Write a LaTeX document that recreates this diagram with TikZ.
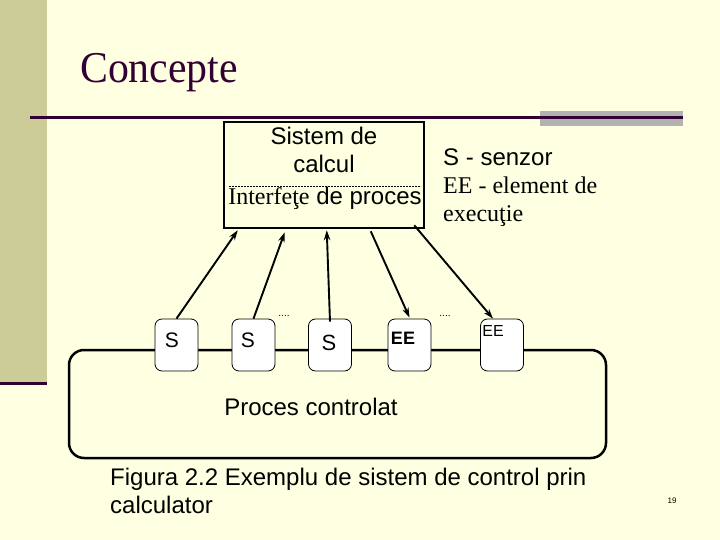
\documentclass[tikz,border=0pt]{standalone}
\usepackage{fontspec}
\setmainfont{Liberation Sans}
\newfontfamily\timesf{Liberation Serif}
\usetikzlibrary{calc,arrows.meta}
\definecolor{bgyellow}{RGB}{255,255,225}
\definecolor{bandolive}{RGB}{204,204,153}
\definecolor{darkpurple}{RGB}{51,0,51}
\definecolor{bargray}{RGB}{178,178,178}
\tikzset{
  sbox/.style={draw=black, line width=0.8pt, fill=white, rounded corners=7pt,
    minimum width=43pt, minimum height=52pt, inner sep=0pt},
  lbl/.style={inner sep=0pt, font=\fontsize{24}{26}\selectfont},
  arr/.style={line width=1.9pt, -{Stealth[length=10pt,width=6.5pt]}},
  dots/.style={inner sep=0pt, font=\fontsize{10}{10}\selectfont}
}
\begin{document}
\begin{tikzpicture}[x=1pt,y=-1pt]
\useasboundingbox (0,0) rectangle (720,540);
\fill[bgyellow] (0,0) rectangle (720,540);
% left band
\fill[bandolive] (0,0) rectangle (47,384);
\draw[darkpurple, line width=3pt] (0,383) -- (47,383);
% gray bar and title line
\fill[bargray] (540,111) rectangle (683,126);
\draw[darkpurple, line width=3pt] (30,117.5) -- (683,117.5);
\node[anchor=base west, inner sep=0pt, text=darkpurple, font=\timesf\fontsize{44}{48}\selectfont, xscale=0.95] (title) at (80,83) {Concepte};

% main computer box
\node[draw=black, line width=2.5pt, minimum width=200pt, minimum height=106pt, inner sep=0pt] (sc) at (324,175) {};
\node[lbl, anchor=base] (t1) at (324,145) {Sistem de};
\node[lbl, anchor=base] (t2) at (324,173) {calcul};
\draw[black, line width=0.5pt, dash pattern=on 2pt off 1pt] (229,186) -- (421,186);
\node[lbl, anchor=base] (t3) at (325,205) {{\timesf Interfeţe} de proces};

% legend
\node[lbl, anchor=base west] (leg1) at (443,166) {S - senzor};
\node[lbl, anchor=base west, font=\timesf\fontsize{24}{26}\selectfont] (leg2) at (443,194) {EE - element de};
\node[lbl, anchor=base west, font=\timesf\fontsize{24}{26}\selectfont] (leg3) at (443,222) {execuţie};

% controlled process
\node[draw=black, line width=2.5pt, rounded corners=15pt, minimum width=537pt, minimum height=108pt, inner sep=0pt] (pc) at (337.5,404) {};
\node[inner sep=0pt, font=\fontsize{24}{26}\selectfont] (pct) at (311,407) {Proces controlat};

% sensors and actuators
\node[sbox] (s1) at (176.5,345) {};
\node[sbox] (s2) at (253.5,345) {};
\node[sbox] (s3) at (330,345) {};
\node[sbox] (s4) at (409.5,345) {};
\node[sbox] (s5) at (502,345) {};
\node[lbl, font=\fontsize{21}{23}\selectfont] (l1) at (172,340) {S};
\node[lbl, font=\fontsize{21}{23}\selectfont] (l2) at (248,340) {S};
\node[lbl, font=\fontsize{22}{24}\selectfont] (l3) at (329,343) {S};
\node[lbl, font=\bfseries\fontsize{18}{20}\selectfont] (l4) at (403,338) {EE};
\node[lbl, font=\fontsize{16}{18}\selectfont] (l5) at (493,331) {EE};
\node[dots] (d1) at (284,316) {....};
\node[dots] (d2) at (445,316) {....};

% connectors
\draw[arr] (s1.north) -- ($(sc.south west)+(15,1)$);
\draw[arr] (s2.north) -- ($(sc.south west)+(62,3)$);
\draw[arr] ([yshift=-3pt]s3.north) -- ($(sc.south west)+(104,1)$);
\draw[arr] ($(sc.south west)+(148,2)$) -- ([yshift=1pt]s4.north);
\draw[arr] ($(sc.south east)+(-11,-4)$) -- ($(s5.north)+(-9,0)$);

% caption
\node[anchor=base west, inner sep=0pt, font=\fontsize{24}{26}\selectfont] (cap1) at (110,485) {Figura 2.2 Exemplu de sistem de control prin};
\node[anchor=base west, inner sep=0pt, font=\fontsize{24}{26}\selectfont] (cap2) at (110,513) {calculator};
\node[inner sep=0pt, font=\fontsize{8}{9}\selectfont] (pg) at (672,501) {19};
\end{tikzpicture}
\end{document}
